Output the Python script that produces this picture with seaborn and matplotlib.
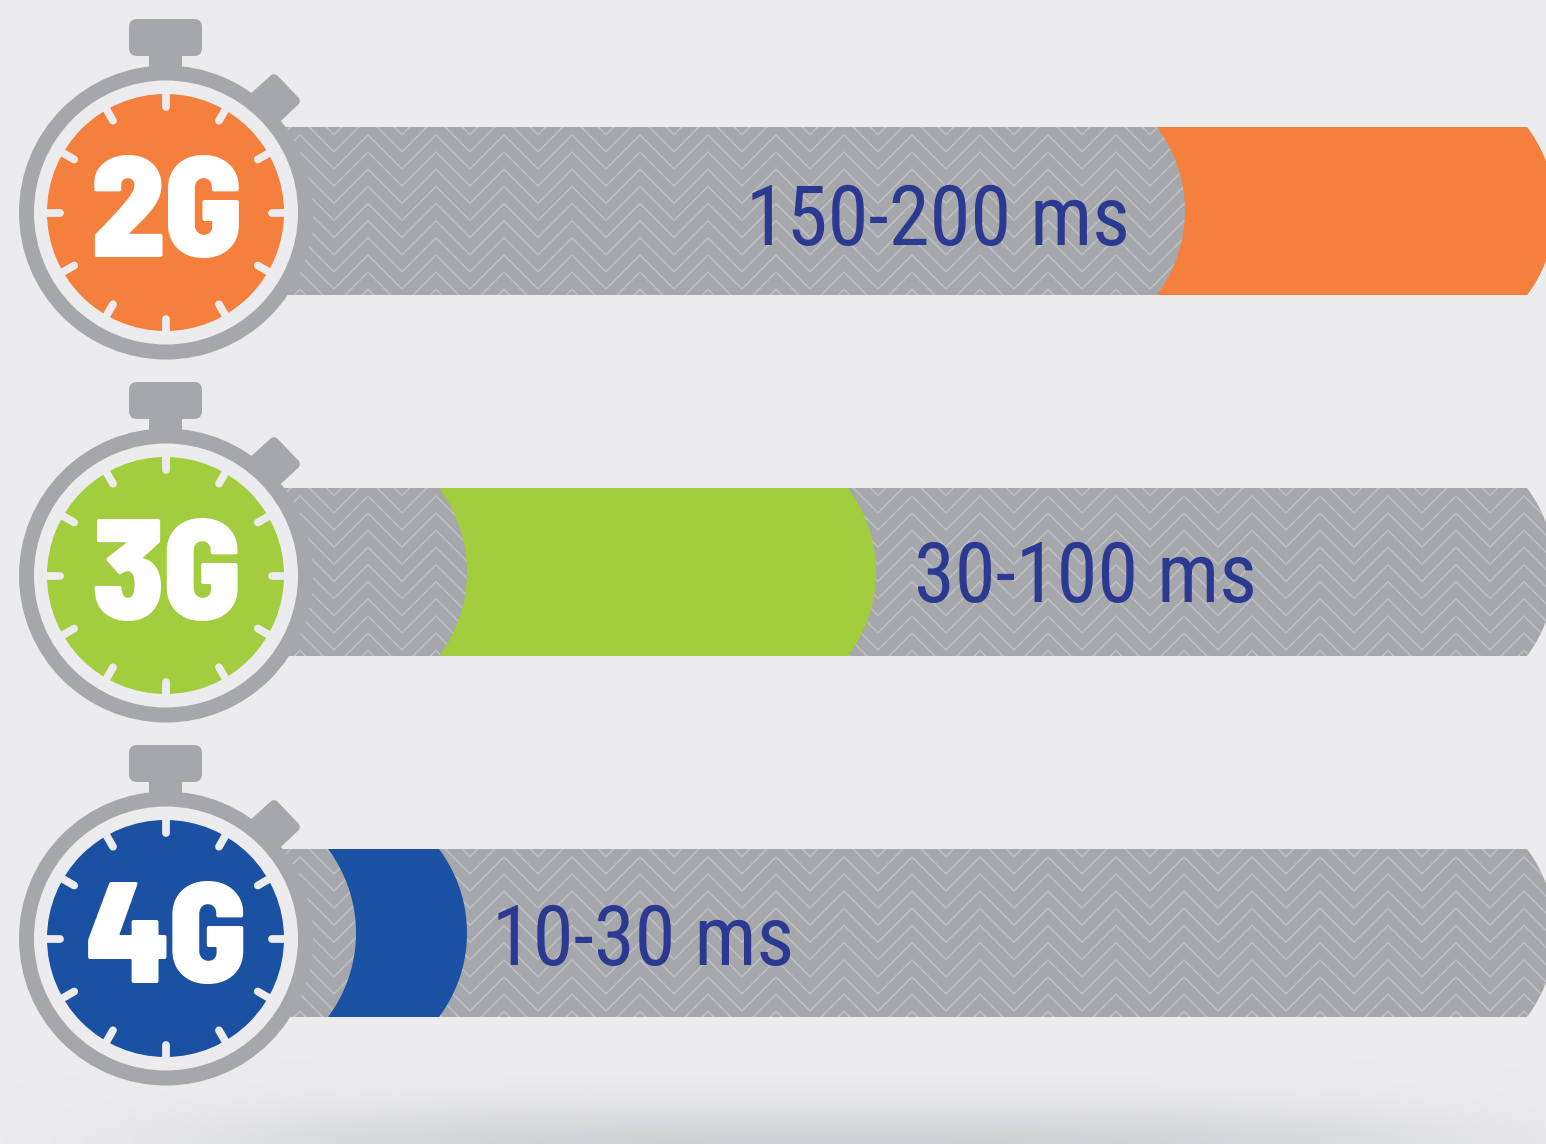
import numpy as np
import seaborn as sns
import matplotlib.pyplot as plt
from matplotlib.collections import LineCollection
from matplotlib.patches import Circle, FancyBboxPatch, Polygon, Rectangle
from matplotlib.transforms import Affine2D

categories = ['2G', '3G', '4G']
latency_low = [150, 30, 10]
latency_high = [200, 100, 30]
latency_labels = ['150-200 ms', '30-100 ms', '10-30 ms']
track_max = [200, 200, 200]
band_colors = ['#F57F3C', '#A2CD3E', '#1B51A2']

W, H = 1546, 1144
BG = '#ECECEE'
GREY = '#A5A7AA'
CHEVRON = '#BDBFC2'
INK = '#2B3990'
LABEL_FONT = ['Roboto Condensed', 'Archivo Narrow', 'Liberation Sans', 'DejaVu Sans']
BADGE_FONT = ['Barlow Semi Condensed', 'Barlow Condensed', 'Roboto Condensed', 'Liberation Sans', 'DejaVu Sans']

# the source bar lengths are not linear in ms, so the x scale is piecewise
SCALE_MS = [0, 10, 30, 100, 150, 200]
SCALE_PX = [270, 356, 467, 876, 1185, 1555]


def ms_to_px(v):
    v = np.asarray(v, float)
    return (np.interp(v, SCALE_MS, SCALE_PX)
            + np.minimum(v - SCALE_MS[0], 0) * 8 + np.maximum(v - SCALE_MS[-1], 0) * 7)


def px_to_ms(v):
    v = np.asarray(v, float)
    return (np.interp(v, SCALE_PX, SCALE_MS)
            + np.minimum(v - SCALE_PX[0], 0) / 8 + np.maximum(v - SCALE_PX[-1], 0) / 7)


sns.set_theme(style='white')
plt.rcParams['font.family'] = LABEL_FONT

fig = plt.figure(figsize=(W / 100, H / 100), dpi=100, facecolor=BG)
ax = fig.add_axes([0, 0, 1, 1])

sns.barplot(x=track_max, y=categories, color=GREY, saturation=1, width=168 / 361, ax=ax)
n_track = len(ax.patches)
sns.barplot(x=latency_high, y=categories, hue=categories, palette=band_colors, saturation=1,
            width=168 / 361, dodge=False, legend=False, ax=ax)

ax.set_xscale('function', functions=(ms_to_px, px_to_ms))
ax.set_xlim(px_to_ms(0), px_to_ms(W))
ax.set_ylim((H - 211) / 361, -211 / 361)
ax.axis('off')

# everything that is icon or pattern is placed in image pixels
px = Affine2D().scale(1 / W, -1 / H).translate(0, 1) + fig.transFigure


def to_px(x, y):
    return px.inverted().transform(ax.transData.transform((x, y)))


def shaped_bar(left_px, right_px, top, bottom, color, zorder, curved_left=True):
    # both ends of a bar bulge to the right along a circle of radius 140
    R = 140.0
    mid = (top + bottom) / 2
    ys = np.linspace(top, bottom, 40)
    right = right_px - R + np.sqrt(R ** 2 - (ys - mid) ** 2)
    left = left_px - R + np.sqrt(R ** 2 - (ys - mid) ** 2) if curved_left else np.full(40, left_px)
    pts = np.r_[np.c_[right, ys], np.c_[left, ys][::-1]]
    patch = Polygon(pts, closed=True, fc=color, ec='none', transform=px, zorder=zorder)
    ax.add_patch(patch)
    return patch


bars = list(ax.patches)
tracks, bands = bars[:n_track], bars[n_track:]
for i, (track, band) in enumerate(zip(tracks, bands)):
    tx0, top = to_px(track.get_x(), track.get_y())
    tx1, bottom = to_px(track.get_x() + track.get_width(), track.get_y() + track.get_height())
    track_shape = shaped_bar(tx0, tx1, top, bottom, track.get_facecolor(), 1, curved_left=False)

    xs = np.arange(266, 1600, 34.0)
    offs = np.where((np.round((xs - 266) / 34).astype(int)) % 2 == 0, 0.0, -34.0)
    segs = [np.c_[xs, y0 + offs] for y0 in np.arange(top - 9.5, bottom + 50, 17.15)]
    lines = LineCollection(segs, colors=CHEVRON, linewidths=1.15, transform=px, zorder=2)
    ax.add_collection(lines, autolim=False)
    lines.set_clip_path(track_shape)

    bx0 = to_px(latency_low[i], 0)[0]
    bx1 = to_px(band.get_width(), 0)[0]
    shaped_bar(bx0, bx1, top, bottom, band.get_facecolor(), 3)

    track.set_visible(False)
    band.set_visible(False)

label_x = [746, 914, 492]
label_y = [245, 602, 965]
for x, y, lab in zip(label_x, label_y, latency_labels):
    ax.text(x, y, lab, transform=px, color=INK, fontsize=59.5, ha='left', va='baseline',
            family=LABEL_FONT, zorder=4)


def stopwatch(cy, color, name):
    cx = 166
    dy = cy - 212.5
    art = [
        Rectangle((149, 50 + dy), 33, 30, fc=GREY, ec='none'),
        FancyBboxPatch((137, 27 + dy), 57, 21, boxstyle='round,pad=8,rounding_size=8', fc=GREY, ec='none'),
        Polygon(np.array([(240, 110), (274, 79), (295, 101), (262, 132)]) + [0, dy], closed=True,
                fc=GREY, ec=GREY, lw=7, joinstyle='round'),
        Circle((cx, cy), 147, fc=GREY, ec='none'),
        Circle((cx, cy), 132, fc=BG, ec='none'),
        Circle((cx - 0.5, cy), 118.5, fc=color, ec='none'),
    ]
    for a in art:
        a.set_transform(px)
        a.set_zorder(5)
        ax.add_patch(a)
    for ang in np.deg2rad(np.arange(0, 360, 30)):
        ax.plot([cx + 119 * np.sin(ang), cx + 106 * np.sin(ang)],
                [cy - 119 * np.cos(ang), cy - 106 * np.cos(ang)],
                color=BG, lw=5.6, solid_capstyle='round', transform=px, zorder=6,
                scalex=False, scaley=False)
    ax.text(cx + 0.5, cy + 44.5, name, transform=px, color='white', fontsize=103, weight=900,
            ha='center', va='baseline', family=BADGE_FONT, zorder=7)


for i, name in enumerate(categories):
    stopwatch(212.5 + 363 * i, band_colors[i], name)

# soft shadow along the bottom edge
yy, xx = np.mgrid[0:90, 0:W]
shade = np.exp(-((xx - 830) / 620.0) ** 4) * np.exp(-((89 - yy) / 38.0) ** 2)
img = np.zeros((90, W, 4))
img[..., :3] = np.array([0.80, 0.81, 0.82])
img[..., 3] = shade * 0.85
fig.figimage(img, xo=0, yo=0, origin='upper', zorder=-1)

fig.savefig('out.png', dpi=100)
